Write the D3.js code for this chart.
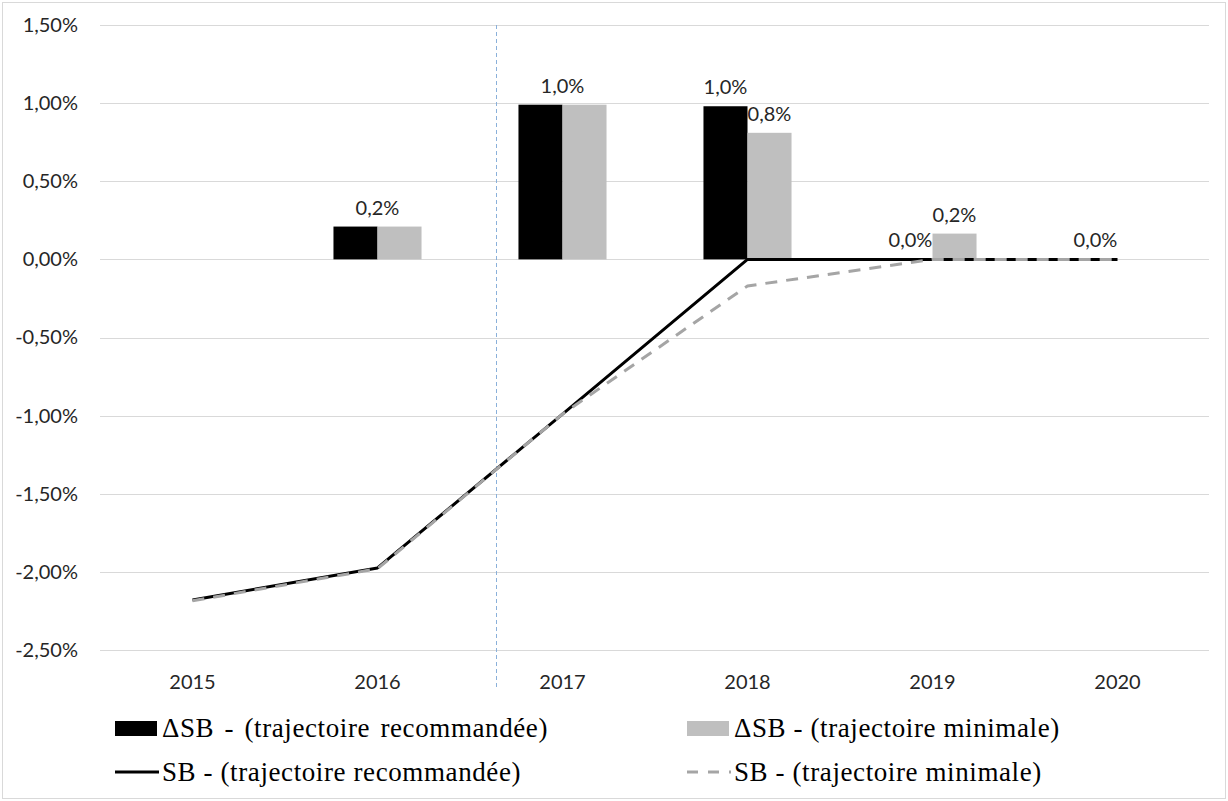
<!DOCTYPE html>
<html>
<head>
<meta charset="utf-8">
<script src="https://cdn.jsdelivr.net/npm/d3@7/dist/d3.min.js"></script>
<style>
  html, body { margin: 0; padding: 0; background: #fff; }
  svg { display: block; }
</style>
</head>
<body>
<svg id="chart" width="1228" height="801"></svg>
<script>
// ---- data ----
const years = ["2015", "2016", "2017", "2018", "2019", "2020"];
const deltaRecommandee = [null, 0.21, 0.99, 0.98, 0.0, 0.0];
const deltaMinimale = [null, 0.21, 0.99, 0.81, 0.165, 0.0];
const sbRecommandee = [-2.18, -1.975, -0.99, 0.0, 0.0, 0.0];
const sbMinimale = [-2.185, -1.98, -0.99, -0.17, 0.0, 0.0];
const yTicks = [1.5, 1.0, 0.5, 0.0, -0.5, -1.0, -1.5, -2.0, -2.5];
// data labels: [year index, series (0 = recommandée, 1 = minimale, "both" = group), text]
const dataLabels = [
  [1, "both", "0,2%"],
  [2, "both", "1,0%"],
  [3, 0, "1,0%"],
  [3, 1, "0,8%"],
  [4, 0, "0,0%"],
  [4, 1, "0,2%"],
  [5, 0, "0,0%"]
];
const seriesNames = [
  "\u0394SB - (trajectoire recommandée)",
  "\u0394SB - (trajectoire minimale)",
  "SB - (trajectoire recommandée)",
  "SB - (trajectoire minimale)"
];
const dividerPosition = 1.64; // in category units (between 2016 and 2017)

// ---- setup ----
const svg = d3.select("#chart");
const W = 1228, H = 801;
const plot = { left: 100, right: 1210, top: 25, bottom: 650 };

svg.append("rect")
  .attr("x", 2.5).attr("y", 2.5).attr("width", W - 5).attr("height", H - 5)
  .attr("fill", "#fff").attr("stroke", "#D9D9D9").attr("stroke-width", 1);

const x = d3.scaleBand().domain(years).range([plot.left, plot.right])
  .paddingInner(0.524).paddingOuter(0.262);
const xSub = d3.scaleBand().domain([0, 1]).range([0, x.bandwidth()]);
const xc = d => x(d) + x.bandwidth() / 2;
const y = d3.scaleLinear().domain([-2.5, 1.5]).range([plot.bottom, plot.top]);

const fmtTick = d => d3.format(".2f")(d).replace("−", "-").replace(".", ",") + "%";
const sansFont = "Lato, 'Open Sans', sans-serif";

// gridlines
svg.append("g")
  .selectAll("line").data(yTicks).join("line")
  .attr("x1", plot.left).attr("x2", plot.right - 1)
  .attr("y1", d => Math.round(y(d)) + 0.5).attr("y2", d => Math.round(y(d)) + 0.5)
  .attr("stroke", "#D9D9D9").attr("stroke-width", 1);

// y axis labels
const yAxis = d3.axisLeft(y).tickValues(yTicks).tickSize(0).tickPadding(0).tickFormat(fmtTick);
const gy = svg.append("g").attr("transform", `translate(78,0)`).call(yAxis);
gy.select(".domain").remove();
gy.selectAll("text")
  .attr("font-family", sansFont)
  .attr("font-size", 20).attr("fill", "#262626");

// x axis labels
const xAxis = d3.axisBottom(x).tickSize(0).tickPadding(0);
const gx = svg.append("g").attr("transform", `translate(0,${plot.bottom + 25})`).call(xAxis);
gx.select(".domain").remove();
gx.selectAll("text")
  .attr("font-family", sansFont)
  .attr("font-size", 20).attr("fill", "#262626");

// divider line
const step = x.step();
const divX = xc(years[0]) + dividerPosition * step;
svg.append("line")
  .attr("x1", Math.round(divX) + 0.5).attr("x2", Math.round(divX) + 0.5)
  .attr("y1", plot.top).attr("y2", plot.bottom + 40)
  .attr("stroke", "#8AB0DA").attr("stroke-width", 1).attr("stroke-dasharray", "4,3");

// bars
const barSeries = [deltaRecommandee, deltaMinimale];
const barColors = ["#000000", "#BFBFBF"];
barSeries.forEach((vals, si) => {
  svg.append("g").selectAll("rect")
    .data(years.map((yr, i) => ({ yr, v: vals[i] })).filter(d => d.v !== null && d.v > 0))
    .join("rect")
    .attr("x", d => x(d.yr) + xSub(si))
    .attr("width", xSub.bandwidth())
    .attr("y", d => y(d.v))
    .attr("height", d => y(0) - y(d.v))
    .attr("fill", barColors[si]);
});

// lines
const line = d3.line().x((d, i) => xc(years[i])).y(d => y(d));
svg.append("path").datum(sbRecommandee)
  .attr("d", line).attr("fill", "none")
  .attr("stroke", "#000").attr("stroke-width", 3).attr("stroke-linejoin", "round");
svg.append("path").datum(sbMinimale)
  .attr("d", line).attr("fill", "none")
  .attr("stroke", "#A5A5A5").attr("stroke-width", 3).attr("stroke-linejoin", "round")
  .attr("stroke-dasharray", "12,9");

// data labels
svg.append("g").selectAll("text").data(dataLabels).join("text")
  .attr("x", d => d[1] === "both" ? xc(years[d[0]]) : x(years[d[0]]) + xSub(d[1]) + xSub.bandwidth() / 2)
  .attr("y", d => {
    const v = d[1] === "both" ? Math.max(deltaRecommandee[d[0]], deltaMinimale[d[0]]) : barSeries[d[1]][d[0]];
    return y(v) - 12;
  })
  .attr("text-anchor", "middle")
  .attr("font-family", sansFont)
  .attr("font-size", 20).attr("fill", "#262626")
  .text(d => d[2]);

// legend
const legendCols = [115, 687];
const legendRows = [728, 772];
const legendFont = "'Liberation Serif', 'Times New Roman', serif";
const leg = svg.append("g");
seriesNames.forEach((name, i) => {
  const col = legendCols[i % 2], row = legendRows[Math.floor(i / 2)];
  if (i < 2) {
    leg.append("rect").attr("x", col).attr("y", row - 7).attr("width", 42).attr("height", 15)
      .attr("fill", barColors[i]);
  } else if (i === 2) {
    leg.append("line").attr("x1", col).attr("x2", col + 44).attr("y1", row).attr("y2", row)
      .attr("stroke", "#000").attr("stroke-width", 3);
  } else {
    leg.append("line").attr("x1", col).attr("x2", col + 44).attr("y1", row).attr("y2", row)
      .attr("stroke", "#A5A5A5").attr("stroke-width", 3).attr("stroke-dasharray", "11,10");
  }
  leg.append("text").attr("x", col + 47).attr("y", row + 9)
    .attr("font-family", legendFont).attr("font-size", 27)
    .attr("letter-spacing", 0.6).attr("word-spacing", i === 0 ? 3 : 0)
    .attr("fill", "#000")
    .text(name);
});
</script>
</body>
</html>
